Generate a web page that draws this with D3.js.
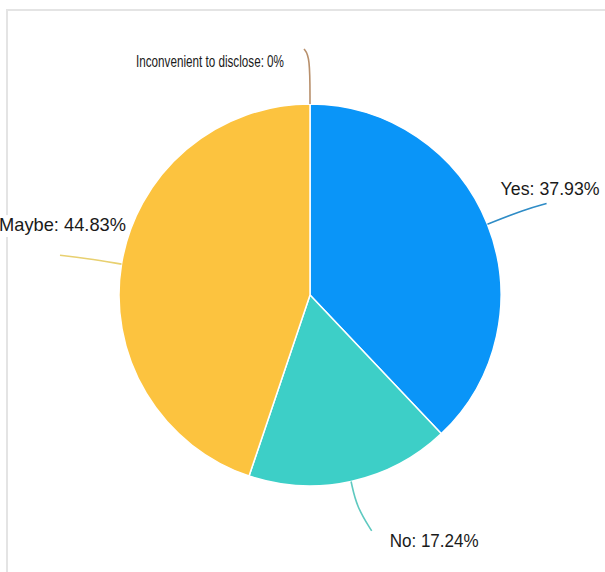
<!DOCTYPE html>
<html>
<head>
<meta charset="utf-8">
<script src="https://cdn.jsdelivr.net/npm/d3@7"></script>
<style>
  html, body { margin: 0; padding: 0; background: #fff; }
  svg { display: block; }
  text { font-family: "Liberation Sans", Arial, Helvetica, sans-serif; fill: #1a1a1a; }
</style>
</head>
<body>
<svg id="chart" width="605" height="572"></svg>
<script>
// Survey answers and their shares (percent)
const categories = ["Yes", "No", "Maybe", "Inconvenient to disclose"];
const values = [37.93, 17.24, 44.83, 0];
const sliceColors = ["#0a95f8", "#3dcfc7", "#fcc33f", "#b8906c"];
const lineColors = ["#2f8cc6", "#5ec9c0", "#e8d070", "#b8906c"];

const W = 605, H = 572;
const cx = 310, cy = 295, R = 191;

const svg = d3.select("#chart");

// light frame along the top and left edges
svg.append("line").attr("x1", 6).attr("y1", 10).attr("x2", W).attr("y2", 10)
  .attr("stroke", "#e4e4e4").attr("stroke-width", 2);
svg.append("line").attr("x1", 7).attr("y1", 10).attr("x2", 7).attr("y2", H)
  .attr("stroke", "#e4e4e4").attr("stroke-width", 2);

const data = categories.map((c, i) => ({ name: c, value: values[i], i }));

const pie = d3.pie().sort(null).value(d => d.value);
const arcs = pie(data);

const arc = d3.arc().innerRadius(0).outerRadius(R);

const g = svg.append("g").attr("transform", `translate(${cx},${cy})`);

g.selectAll("path.slice")
  .data(arcs.filter(a => a.data.value > 0))
  .join("path")
  .attr("class", "slice")
  .attr("d", arc)
  .attr("fill", d => sliceColors[d.data.i])
  .attr("stroke", "#ffffff")
  .attr("stroke-width", 1.5)
  .attr("stroke-linejoin", "round");

// leader line geometry per slice: radial extension, then a tail toward the label
const legLen = [40, 26, 36, 48];
const tail = [[22, -6], [15, 24], [-26, -3], [-6, -7]];
// label anchor offsets from the tail end, plus drawn widths
const labelOff = [[-46, -9], [18, 16], [-61, -24], [-168, 18]];
const labelSize = [18, 19, 19, 16];
const labelWidth = [99, 89, 127, 148];

function polar(angle, r) {
  return [Math.sin(angle) * r, -Math.cos(angle) * r];
}

const lineGen = d3.line().curve(d3.curveBasis);

arcs.forEach(a => {
  const i = a.data.i;
  const mid = (a.startAngle + a.endAngle) / 2;
  const p0 = polar(mid, R);
  const p1 = polar(mid, R + legLen[i]);
  const p2 = [p1[0] + tail[i][0], p1[1] + tail[i][1]];
  g.append("path")
    .attr("d", lineGen([p0, p1, p2]))
    .attr("fill", "none")
    .attr("stroke", lineColors[i])
    .attr("stroke-width", 1.6);

  const lx = p2[0] + labelOff[i][0];
  const ly = p2[1] + labelOff[i][1];
  // white backing so the frame does not run through the label
  g.append("rect")
    .attr("x", lx - 1)
    .attr("y", ly - labelSize[i] * 0.85)
    .attr("width", labelWidth[i] + 2)
    .attr("height", labelSize[i] * 1.15)
    .attr("fill", "#fff");
  g.append("text")
    .attr("x", lx)
    .attr("y", ly)
    .attr("font-size", labelSize[i])
    .attr("textLength", labelWidth[i])
    .attr("lengthAdjust", "spacingAndGlyphs")
    .text(`${a.data.name}: ${a.data.value}%`);
});
</script>
</body>
</html>
